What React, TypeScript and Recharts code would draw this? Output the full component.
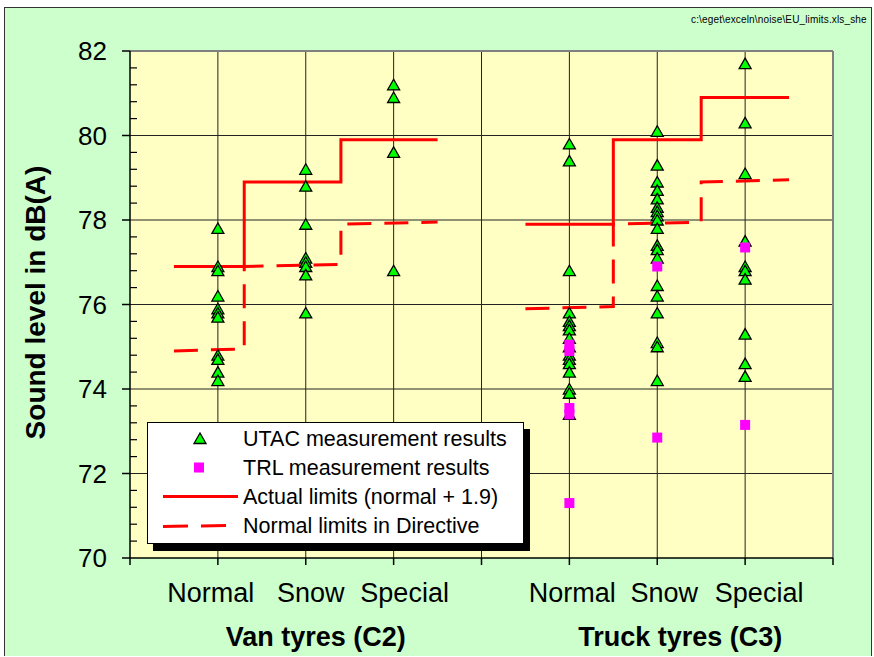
import React from 'react';
import {
  ComposedChart,
  XAxis,
  YAxis,
  CartesianGrid,
  Scatter,
  Line,
  ReferenceLine,
  Legend,
} from 'recharts';

const FONT = '"Liberation Sans", Arial, sans-serif';

// x positions of the tyre classes (4 is the gap between van and truck)
const categoryX = [1, 2, 3, 5, 6, 7];
const categoryLabels = ['Normal', 'Snow', 'Special', 'Normal', 'Snow', 'Special'];
const groupLabels = [
  { at: 2, text: 'Van tyres (C2)' },
  { at: 6, text: 'Truck tyres (C3)' },
];
const xTicks = [0, 1, 2, 3, 4, 5, 6, 7, 8];
const yMajorTicks = [70, 72, 74, 76, 78, 80, 82];
const yAllTicks = [
  70, 70.4, 70.8, 71.2, 71.6, 72, 72.4, 72.8, 73.2, 73.6, 74, 74.4, 74.8, 75.2, 75.6, 76,
  76.4, 76.8, 77.2, 77.6, 78, 78.4, 78.8, 79.2, 79.6, 80, 80.4, 80.8, 81.2, 81.6, 82,
];

// UTAC measurement results, dB(A)
const vanNormalUtac = [77.8, 76.9, 76.8, 76.2, 75.9, 75.8, 75.7, 74.8, 74.7, 74.4, 74.2];
const vanSnowUtac = [79.2, 78.8, 77.9, 77.1, 77.0, 76.9, 76.7, 75.8];
const vanSpecialUtac = [81.2, 80.9, 79.6, 76.8];
const truckNormalUtac = [79.8, 79.4, 76.8, 75.8, 75.6, 75.5, 75.4, 75.2, 75.0, 74.8, 74.7, 74.6, 74.4, 74.0, 73.9, 73.4];
const truckSnowUtac = [80.1, 79.3, 78.9, 78.7, 78.5, 78.3, 78.2, 78.1, 78.0, 77.8, 77.4, 77.3, 77.1, 76.45, 76.2, 75.8, 75.1, 75.0, 74.2];
const truckSpecialUtac = [81.7, 80.3, 79.1, 77.5, 76.9, 76.8, 76.6, 75.3, 74.6, 74.3];

// TRL measurement results (trucks only)
const truckNormalTrl = [75.05, 74.9, 73.55, 73.4, 71.3];
const truckSnowTrl = [76.9, 72.85];
const truckSpecialTrl = [77.35, 73.15];

// limit step lines
const vanLimitX = [0.5, 1.3, 1.3, 2.4, 2.4, 3.5];
const vanActual = [76.9, 76.9, 78.9, 78.9, 79.9, 79.9];
const vanDirective = [74.9, 74.95, 76.9, 76.95, 77.9, 77.95];
const truckLimitX = [4.5, 5.5, 5.5, 6.5, 6.5, 7.5];
const truckActual = [77.9, 77.9, 79.9, 79.9, 80.9, 80.9];
const truckDirective = [75.9, 75.95, 77.9, 77.95, 78.9, 78.95];

const utacValues = [vanNormalUtac, vanSnowUtac, vanSpecialUtac, truckNormalUtac, truckSnowUtac, truckSpecialUtac];
const trlValues = [[], [], [], truckNormalTrl, truckSnowTrl, truckSpecialTrl];

const toPoints = (groups: number[][]) =>
  groups.flatMap((vals, i) => vals.map((y) => ({ x: categoryX[i], y })));
const zip = (xs: number[], ys: number[]) => xs.map((x, i) => ({ x, y: ys[i] }));

const utacPoints = toPoints(utacValues);
const trlPoints = toPoints(trlValues);
const limitLines = [
  { key: 'vanAct', data: zip(vanLimitX, vanActual), dash: undefined },
  { key: 'truckAct', data: zip(truckLimitX, truckActual), dash: undefined },
  { key: 'vanDir', data: zip(vanLimitX, vanDirective), dash: '24 13' },
  { key: 'truckDir', data: zip(truckLimitX, truckDirective), dash: '24 13' },
];

const labelShift: Record<number, number> = { 1: -7, 2: 5, 3: 11, 5: 3, 6: 7, 7: 14 };
const groupShift: Record<number, number> = { 2: 10, 6: 23 };

const Triangle = ({ cx, cy }: any) => (
  <polygon
    points={`${cx},${cy - 5.5} ${cx - 6},${cy + 5} ${cx + 6},${cy + 5}`}
    fill="#00FF00"
    stroke="#000"
    strokeWidth={1.3}
  />
);

const Square = ({ cx, cy }: any) => <rect x={cx - 5} y={cy - 5} width={10} height={10} fill="#FF00FF" />;

function XTick({ x, y, payload }: any) {
  const v = payload.value;
  const i = categoryX.indexOf(v);
  const g = groupLabels.find((gl) => gl.at === v);
  return (
    <g fontFamily={FONT} fill="#000">
      {i >= 0 && (
        <text x={x + labelShift[v]} y={y + 37} textAnchor="middle" fontSize={27}>
          {categoryLabels[i]}
        </text>
      )}
      {g && (
        <text x={x + groupShift[v]} y={y + 81} textAnchor="middle" fontSize={27} fontWeight="bold">
          {g.text}
        </text>
      )}
    </g>
  );
}

function YTick({ x, y, payload }: any) {
  const v = payload.value;
  const major = yMajorTicks.includes(v);
  return major ? (
    <g>
      <line x1={x} x2={x + 8} y1={y} y2={y} stroke="#000" strokeWidth={1.5} />
      <text x={x - 15} y={y} dy="0.36em" textAnchor="end" fontSize={26} fontFamily={FONT} fill="#000">
        {v}
      </text>
    </g>
  ) : (
    <line x1={x + 8} x2={x + 15} y1={y} y2={y} stroke="#000" strokeWidth={1.2} />
  );
}

const legendRows = [
  { text: 'UTAC measurement results', kind: 'tri' },
  { text: 'TRL measurement results', kind: 'sq' },
  { text: 'Actual limits (normal + 1.9)', kind: 'solid' },
  { text: 'Normal limits in Directive', kind: 'dash' },
];

function LegendBox() {
  return (
    <div
      style={{
        width: 377,
        height: 122,
        boxSizing: 'border-box',
        background: '#fff',
        border: '1px solid #000',
        boxShadow: '6px 7px 0 #000',
      }}
    >
      <svg width={375} height={120} style={{ display: 'block' }}>
        {legendRows.map((r, i) => {
          const cy = 15.5 + i * 29;
          return (
            <g key={r.text}>
              {r.kind === 'tri' && <Triangle cx={52} cy={cy} />}
              {r.kind === 'sq' && <Square cx={51} cy={cy} />}
              {r.kind === 'solid' && <line x1={15} x2={90} y1={cy} y2={cy} stroke="#FF0000" strokeWidth={3} />}
              {r.kind === 'dash' && (
                <line x1={15} x2={80} y1={cy + 1} y2={cy} stroke="#FF0000" strokeWidth={3} strokeDasharray="25 13" />
              )}
              <text x={95} y={cy} dy="0.36em" fontSize={21.5} fontFamily={FONT} fill="#000">
                {r.text}
              </text>
            </g>
          );
        })}
      </svg>
    </div>
  );
}

export default function App() {
  return (
    <div style={{ position: 'absolute', left: 0, top: 0, width: 874, height: 657, background: '#fff', overflow: 'hidden' }}>
      <div
        style={{
          position: 'absolute',
          left: 4,
          top: 7,
          width: 868,
          height: 649,
          boxSizing: 'border-box',
          background: '#CCFFCC',
          borderLeft: '1.5px solid #333',
          borderTop: '1.5px solid #333',
          borderRight: '1.5px solid #333',
          overflow: 'hidden',
        }}
      >
        <div
          style={{
            position: 'absolute',
            left: 686,
            top: 5.5,
            fontSize: 10,
            lineHeight: '12px',
            letterSpacing: 0.15,
            whiteSpace: 'nowrap',
            fontFamily: FONT,
            color: '#000',
          }}
        >
          c:\eget\exceln\noise\EU_limits.xls_she
        </div>
      </div>
      <div style={{ position: 'absolute', left: 0, top: 0 }}>
        <ComposedChart width={874} height={657} margin={{ top: 51, right: 41, bottom: 59, left: 0 }}>
          <CartesianGrid
            fill="#FFFFC4"
            fillOpacity={1}
            stroke="#222"
            horizontalValues={[72, 74, 76, 78, 80]}
            verticalValues={[1, 2, 3, 4, 5, 6, 7]}
          />
          <XAxis
            type="number"
            dataKey="x"
            domain={[0, 8]}
            ticks={xTicks}
            interval={0}
            height={40}
            tickSize={7}
            tickMargin={0}
            stroke="#000"
            axisLine={{ stroke: '#000', strokeWidth: 1.5 }}
            tickLine={{ stroke: '#000', strokeWidth: 1.5 }}
            tick={<XTick />}
            allowDataOverflow
          />
          <YAxis
            type="number"
            dataKey="y"
            domain={[70, 82]}
            ticks={yAllTicks}
            interval={0}
            width={130}
            tickSize={8}
            tickMargin={0}
            tickLine={false}
            axisLine={{ stroke: '#000', strokeWidth: 1.5 }}
            tick={<YTick />}
            allowDataOverflow
            label={({ viewBox }: any) => {
              const cy = viewBox.y + viewBox.height / 2 - 2;
              return (
                <text
                  transform={`translate(45, ${cy}) rotate(-90)`}
                  textAnchor="middle"
                  fontSize={28}
                  fontWeight="bold"
                  fontFamily={FONT}
                  fill="#000"
                >
                  Sound level in dB(A)
                </text>
              );
            }}
          />
          <ReferenceLine y={82} stroke="#808080" strokeWidth={2} />
          <ReferenceLine x={8} stroke="#808080" strokeWidth={2} />
          {limitLines.map((l) => (
            <Line
              key={l.key}
              data={l.data}
              dataKey="y"
              type="linear"
              stroke="#FF0000"
              strokeWidth={3}
              strokeDasharray={l.dash}
              dot={false}
              activeDot={false}
              legendType="none"
              isAnimationActive={false}
            />
          ))}
          <Scatter data={utacPoints} dataKey="y" shape={<Triangle />} isAnimationActive={false} />
          <Scatter data={trlPoints} dataKey="y" shape={<Square />} isAnimationActive={false} />
          <Legend
            layout="horizontal"
            verticalAlign="middle"
            align="center"
            wrapperStyle={{ left: 147, top: 422, width: 377, height: 122 }}
            content={<LegendBox />}
          />
        </ComposedChart>
      </div>
    </div>
  );
}
